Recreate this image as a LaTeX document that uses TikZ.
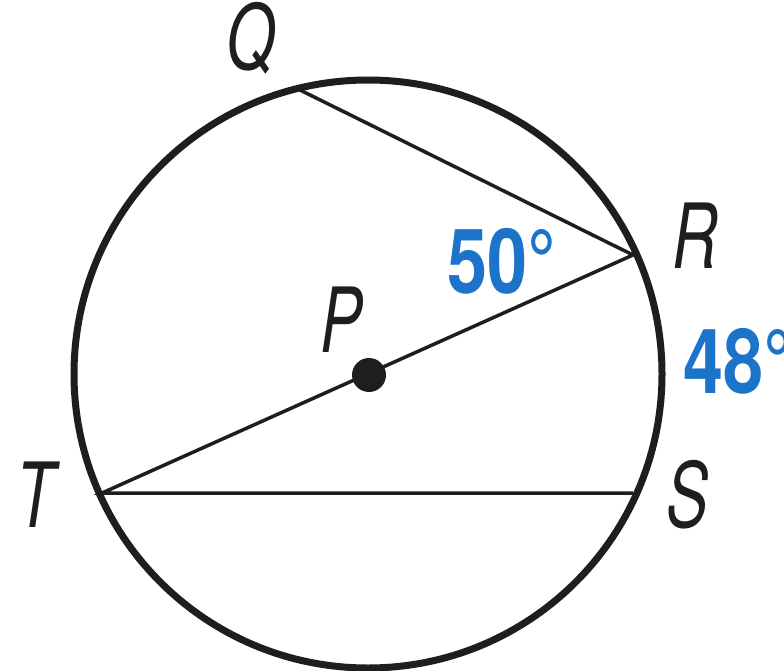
\documentclass[tikz,border=0pt]{standalone}
\usepackage{fontspec}
\setmainfont{TeX Gyre Heros}
\newfontfamily\labfont[FakeStretch=0.7]{TeX Gyre Heros}
\newfontfamily\numfont[FakeStretch=0.8]{TeX Gyre Heros}
\definecolor{myblue}{HTML}{1B74C9}
\definecolor{ink}{HTML}{1E1E1E}
\tikzset{
  ptlabel/.style={anchor=base, inner sep=0pt, text=ink, font=\labfont\itshape\fontsize{90}{90}\selectfont},
  anglabel/.style={anchor=base west, inner sep=0pt, text=myblue, font=\numfont\bfseries\fontsize{90}{90}\selectfont},
  chord/.style={draw=ink, line width=3.5pt}
}
\begin{document}
\begin{tikzpicture}[x=1pt,y=-1pt]
\useasboundingbox (0,0) rectangle (784,671);
\fill[white] (0,0) rectangle (784,671);
\coordinate (C) at (368,374);
\coordinate (Q) at (300,90);
\coordinate (R) at (633,255);
\coordinate (T) at (102,493);
\coordinate (S) at (633,493);
\draw[ink, line width=7pt] (C) circle (294);
\draw[chord] (Q) -- (R) -- (T) -- (S);
\node[circle, fill=ink, minimum size=34pt, inner sep=0pt] (P) at (369,375) {};
\node[ptlabel] (lQ) at (251,70) {Q};
\node[ptlabel] (lR) at (695,268) {R};
\node[ptlabel] (lP) at (342,352) {P};
\node[ptlabel] (lT) at (36,527) {T};
\node[ptlabel] (lS) at (688,527) {S};
\node[anglabel] (a50) at (447,293) {50°};
\node[anglabel] (a48) at (683,393) {48°};
\end{tikzpicture}
\end{document}
